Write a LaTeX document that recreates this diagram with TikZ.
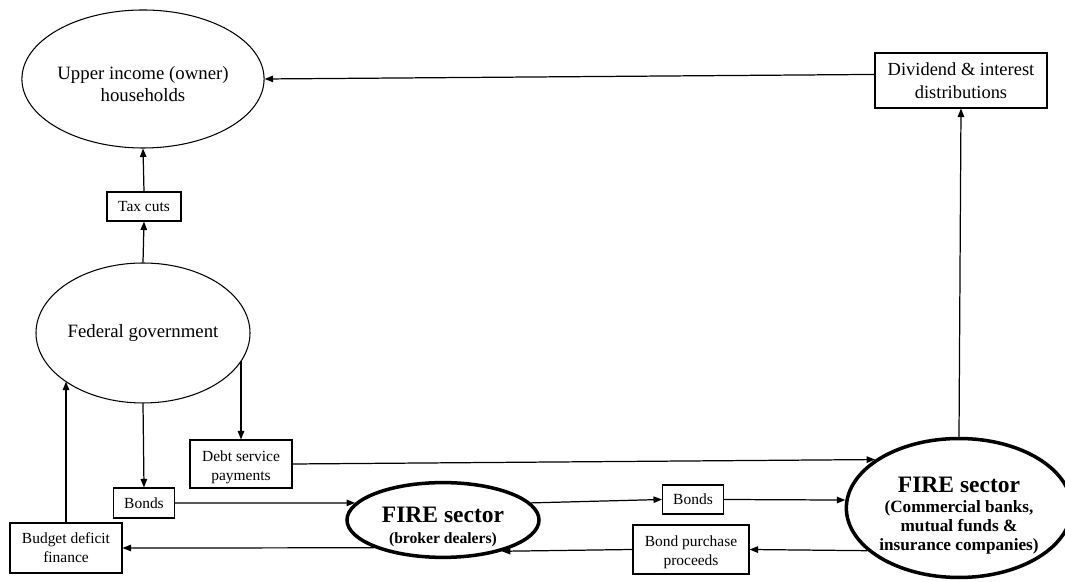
\documentclass[tikz,border=0pt]{standalone}
\usepackage{fontspec}
\setmainfont{Liberation Serif}
\usetikzlibrary{shapes.geometric,arrows.meta}
\begin{document}
\begin{tikzpicture}[
	oval/.style={draw,ellipse,line width=0.6pt,inner sep=0pt,align=center,font=\fontsize{10.7}{12.5}\selectfont},
	fire/.style={draw,ellipse,line width=2pt,inner sep=0pt,align=center},
	box/.style={draw,rectangle,line width=0.6pt,inner sep=0pt,align=center,font=\fontsize{8.8}{10.8}\selectfont},
	flow/.style={line width=0.7pt,-{Triangle[length=1.7mm,width=1.3mm]}}
	]
		\useasboundingbox (0,0) rectangle (21.3,11.64);
		% Draw ellipses
		\node[oval,minimum width=4.28cm,minimum height=2.76cm] (upper) at (2.86,10.06) {\rule{0pt}{13.5pt}Upper income (owner)\\households};
		\node[oval,minimum width=4.28cm,minimum height=2.8cm] (fed) at (2.86,4.98) {Federal government};
		\node[fire,minimum width=3.84cm,minimum height=1.48cm,font=\bfseries\fontsize{8.9}{10.8}\selectfont] (broker) at (8.86,1.24)
			{{\fontsize{13.4}{15}\selectfont\rule{0pt}{16.3pt}FIRE sector}\\[1.1pt](broker dealers)};
		\node[fire,minimum width=4.12cm,minimum height=2.78cm,font=\bfseries\fontsize{9.8}{10.8}\selectfont] (banks) at (19.18,1.48)
			{{\fontsize{13.4}{15}\selectfont\rule{0pt}{17.5pt}FIRE sector}\\[1pt](Commercial banks,\\mutual funds \&\\insurance companies)};
		% Draw boxes
		\node[box,minimum width=1.48cm,minimum height=0.58cm] (tax) at (2.88,7.51) {Tax cuts};
		\node[box,minimum width=3.44cm,minimum height=1.1cm,font=\fontsize{10.5}{13}\selectfont] (dividend) at (19.22,10.03) {Dividend \& interest\\distributions};
		\node[box,minimum width=2.04cm,minimum height=0.96cm] (debt) at (4.82,2.36) {\rule{0pt}{10pt}Debt service\\payments};
		\node[box,minimum width=1.22cm,minimum height=0.6cm] (bondsL) at (2.88,1.58) {Bonds};
		\node[box,minimum width=2.24cm,minimum height=1cm] (budget) at (1.32,0.68) {Budget deficit\\finance};
		\node[box,minimum width=1.22cm,minimum height=0.58cm] (bondsR) at (13.86,1.65) {Bonds};
		\node[box,minimum width=2.32cm,minimum height=0.98cm] (proceeds) at (13.82,0.65) {\rule{0pt}{9.5pt}Bond purchase\\proceeds};
		% Draw flows
		\draw[flow] (fed.north) -- (tax.south);
		\draw[flow] (tax.north) -- (upper.south);
		\draw[flow] (dividend.176) -- (upper.east);
		\draw[flow] (banks.north) -- (dividend.south);
		\draw[flow] (fed.south) -- (bondsL.north);
		\draw[flow] (debt.north |- fed.-16) -- (debt.north);
		\draw[flow] (debt.east) -- (banks.150);
		\draw[flow] (bondsL.east) -- (broker.169);
		\draw[flow] (broker.11) -- (bondsR.west);
		\draw[flow] (bondsR.east) -- (banks.176);
		\draw[flow] (banks.205) -- (proceeds.east);
		\draw[flow] (proceeds.west) -- (broker.-28);
		\draw[flow] (broker.202) -- (budget.east);
		\draw[flow] (budget.north) -- (budget.north |- fed.212);
\end{tikzpicture}
\end{document}
